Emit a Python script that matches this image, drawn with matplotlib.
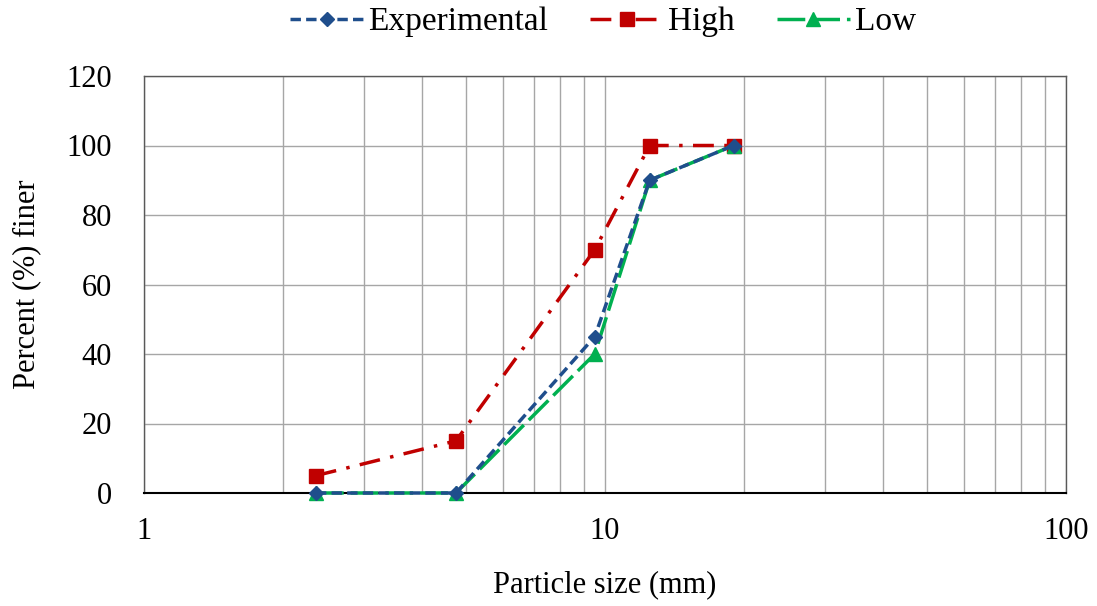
import matplotlib.pyplot as plt
import numpy as np
from matplotlib.ticker import LogLocator, NullFormatter, FixedLocator

plt.rcParams['font.family'] = ['Liberation Serif', 'DejaVu Serif']

# particle size (mm) and percent finer
sizes = [2.36, 4.75, 9.5, 12.5, 19.0]
experimental = [0, 0, 45, 90, 100]
high = [5, 15, 70, 100, 100]
low = [0, 0, 40, 90, 100]

fig = plt.figure(figsize=(10.97, 6.06), dpi=100)
ax = fig.add_axes([144/1097, 1-493/606, (1066-144)/1097, (493-76)/606])

ax.plot(sizes, experimental, color='#1f4e8c', linestyle=(0, (3, 1.5)), linewidth=2.5,
        marker='D', markersize=7, label='Experimental', zorder=4, clip_on=False)
ax.plot(sizes, high, color='#c00000', linestyle=(0, (6, 3, 1, 3)), linewidth=2.5,
        marker='s', markersize=10, label='High', zorder=3, clip_on=False)
ax.plot(sizes, low, color='#00b050', linestyle=(0, (8, 2)), linewidth=2.5,
        marker='^', markersize=10, label='Low', zorder=3, clip_on=False)

ax.set_xscale('log')
ax.set_xlim(1, 100)
ax.set_ylim(0, 120)
ax.yaxis.set_major_locator(FixedLocator([0, 20, 40, 60, 80, 100, 120]))
ax.xaxis.set_major_locator(FixedLocator([1, 10, 100]))
ax.xaxis.set_major_formatter(plt.FuncFormatter(lambda v, p: '%d' % v))
ax.xaxis.set_minor_locator(LogLocator(base=10, subs=np.arange(2, 10)))
ax.xaxis.set_minor_formatter(NullFormatter())

ax.grid(True, which='both', axis='x', color='#a6a6a6', linewidth=1)
ax.grid(True, which='major', axis='y', color='#a6a6a6', linewidth=1)
ax.set_axisbelow(True)

for s in ax.spines.values():
    s.set_color('#595959')
    s.set_linewidth(1)
ax.spines['bottom'].set_color('black')
ax.spines['bottom'].set_linewidth(1.5)

ax.tick_params(which='both', length=0, labelsize=22)
ax.tick_params(axis='y', pad=23)
ax.tick_params(axis='x', pad=17)

ax.set_xlabel('Particle size (mm)', fontsize=22)
ax.set_ylabel('Percent (%) finer', fontsize=22)
ax.xaxis.set_label_coords(0.5, (493-585)/417)
ax.yaxis.set_label_coords((27-144)/922, 0.5)
ax.xaxis.label.set_va('center')
ax.yaxis.label.set_va('center')

fig.legend(*ax.get_legend_handles_labels(), loc='center',
           bbox_to_anchor=(603/1097, 1-22/606), ncol=3, frameon=False,
           fontsize=24, handlelength=2.2, columnspacing=1.25, handletextpad=0.15)

fig.savefig('out.png', dpi=100)
